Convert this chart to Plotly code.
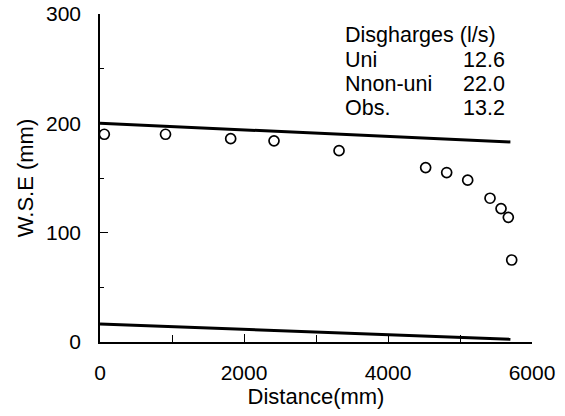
import plotly.graph_objects as go

# Observed water surface elevation
obs_x = [60, 910, 1815, 2417, 3320, 4523, 4815, 5107, 5417, 5570, 5671, 5718]
obs_y = [190, 190, 186, 184, 175, 159.5, 155, 148, 131.5, 122, 114, 75]

# Computed lines
uni_x = [0, 5700]
uni_y = [200, 183]
low_x = [0, 5700]
low_y = [16.5, 2.5]

legend_title = "Disgharges (l/s)"
legend_labels = ["Uni", "Nnon-uni", "Obs."]
legend_values = ["12.6", "22.0", "13.2"]

FONT = "Liberation Sans, Arial, sans-serif"

fig = go.Figure()
fig.add_trace(go.Scatter(x=uni_x, y=uni_y, mode="lines",
                         line=dict(color="black", width=3), showlegend=False))
fig.add_trace(go.Scatter(x=low_x, y=low_y, mode="lines",
                         line=dict(color="black", width=3), showlegend=False))
fig.add_trace(go.Scatter(x=obs_x, y=obs_y, mode="markers",
                         marker=dict(symbol="circle-open", size=10,
                                     color="black", line=dict(width=1.7)),
                         showlegend=False))

def px_x(p):
    return (p - 100) / 432.0

def px_y(p):
    return (342 - p) / 328.0

rows_y = [35, 60, 84, 108]
anns = [dict(text=legend_title, x=px_x(343), y=px_y(rows_y[0]), xref="paper", yref="paper",
             xanchor="left", yanchor="middle", showarrow=False,
             font=dict(family=FONT, size=21.5, color="black"))]
for i, (lab, val) in enumerate(zip(legend_labels, legend_values)):
    anns.append(dict(text=lab, x=px_x(343), y=px_y(rows_y[i + 1]), xref="paper", yref="paper",
                     xanchor="left", yanchor="middle", showarrow=False,
                     font=dict(family=FONT, size=21.5, color="black")))
    anns.append(dict(text=val, x=px_x(507), y=px_y(rows_y[i + 1]), xref="paper", yref="paper",
                     xanchor="right", yanchor="middle", showarrow=False,
                     font=dict(family=FONT, size=21.5, color="black")))

fig.update_layout(
    width=565, height=416,
    margin=dict(l=100, r=33, t=14, b=74),
    paper_bgcolor="white", plot_bgcolor="white",
    font=dict(family=FONT, size=20, color="black"),
    annotations=anns,
    xaxis=dict(range=[0, 6000], tickvals=[0, 2000, 4000, 6000],
               ticks="inside", ticklen=8, tickwidth=1.2, tickcolor="black",
               minor=dict(tickvals=[1000, 3000, 5000], ticks="inside", ticklen=7,
                          tickwidth=1.2, tickcolor="black", showgrid=False),
               showline=True, linecolor="black", linewidth=1.5,
               showgrid=False, zeroline=False, ticklabelstandoff=11,
               ticklabeloverflow="allow", automargin=False,
               tickfont=dict(size=21),
               title=dict(text="Distance(mm)", font=dict(size=22), standoff=2)),
    yaxis=dict(range=[0, 300], tickvals=[0, 100, 200, 300],
               ticks="inside", ticklen=8, tickwidth=1.2, tickcolor="black",
               minor=dict(tickvals=[50, 150, 250], ticks="inside", ticklen=4,
                          tickwidth=1.2, tickcolor="black", showgrid=False),
               showline=True, linecolor="black", linewidth=1.5,
               showgrid=False, zeroline=False, ticklabelstandoff=13,
               ticklabeloverflow="allow", automargin=False,
               tickfont=dict(size=21),
               title=dict(text="W.S.E (mm)", font=dict(size=22), standoff=6)),
)

fig.write_html("out.html",
               config={"displayModeBar": False},
               post_script="document.body.style.margin='0';document.body.style.overflow='hidden';")
